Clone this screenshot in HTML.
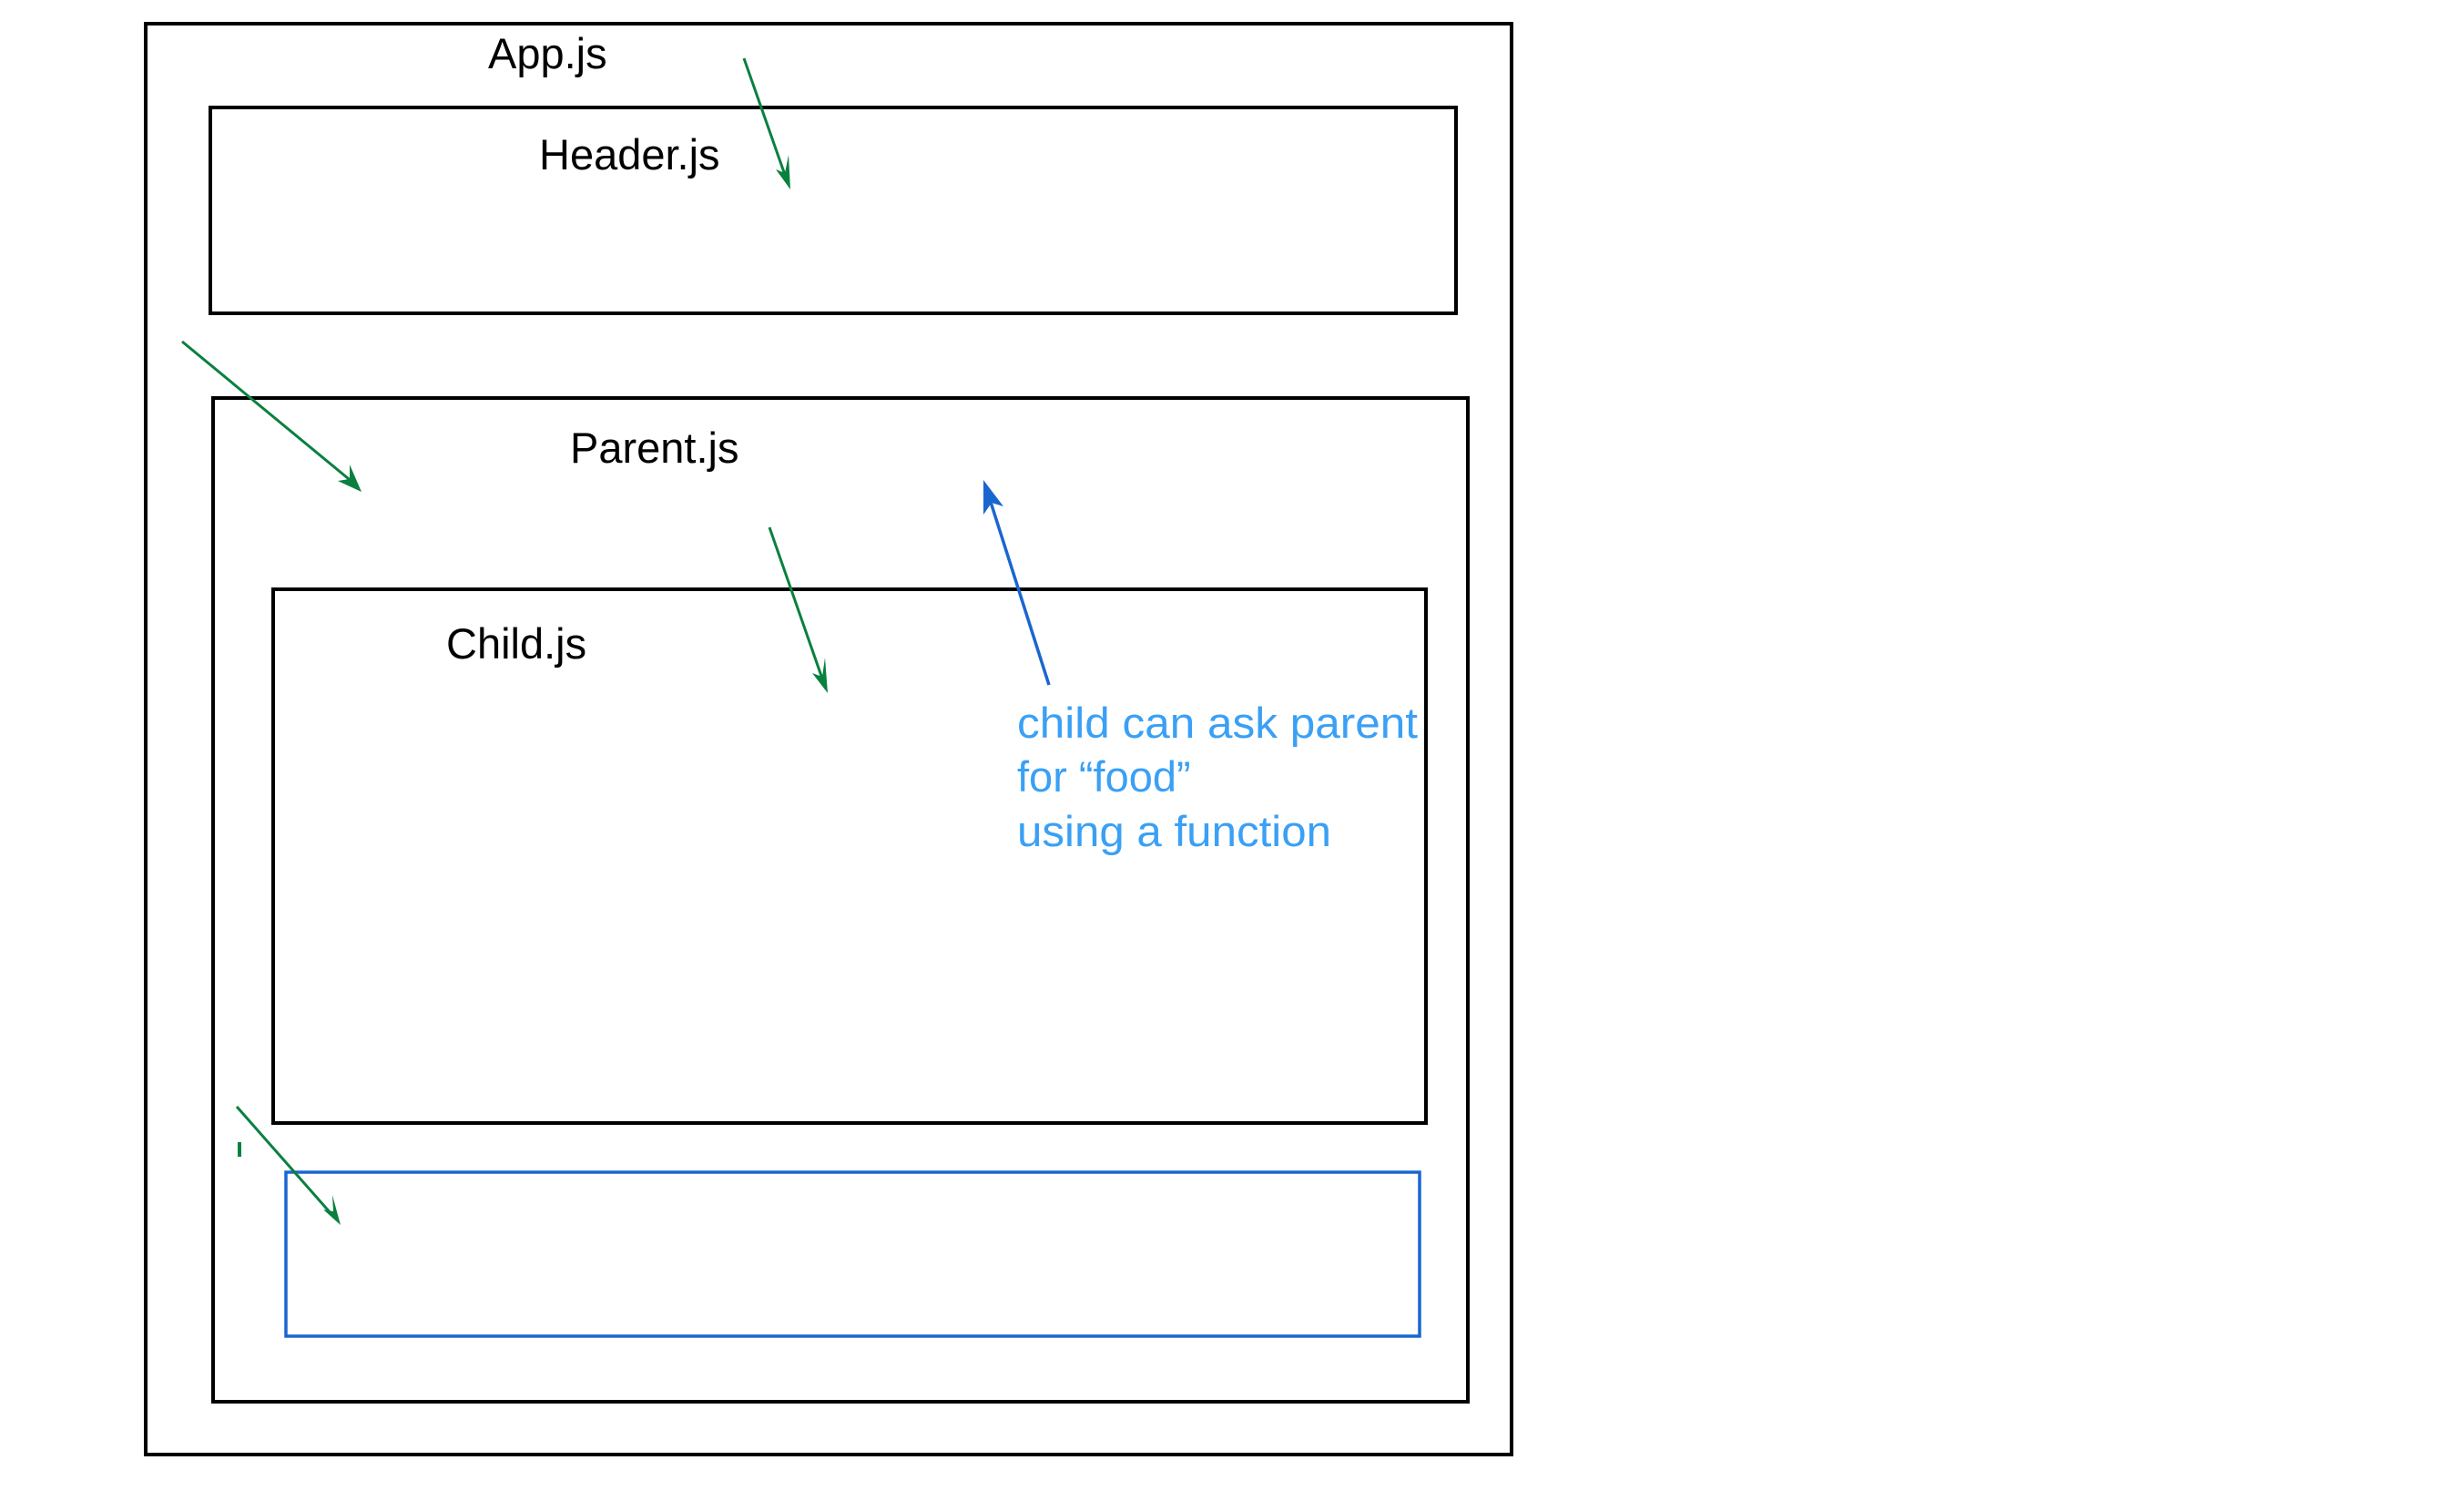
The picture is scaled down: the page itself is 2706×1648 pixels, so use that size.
<!DOCTYPE html>
<html><head><meta charset="utf-8"><style>
html,body{margin:0;padding:0;background:#fff;}
body{width:2706px;height:1648px;overflow:hidden;position:relative;}
svg{position:absolute;left:0;top:0;}
text{font-family:"Liberation Sans",sans-serif;font-size:47px;}
</style></head><body>
<svg width="2706" height="1648" viewBox="0 0 2706 1648">
<g fill="none" stroke="#000" stroke-width="4">
<rect x="160" y="26" width="1500" height="1571"/>
<rect x="231" y="118" width="1377" height="226" transform="translate(0,0)" style="display:none"/>
<rect x="231" y="118" width="1368" height="226"/>
<rect x="234" y="437" width="1378" height="1102"/>
<rect x="300" y="647" width="1266" height="586"/>
</g>
<rect x="314" y="1287" width="1245" height="180" fill="none" stroke="#1a66d0" stroke-width="3.5"/>
<g fill="#000">
<text x="536" y="75">App.js</text>
<text x="592" y="186">Header.js</text>
<text x="626" y="508">Parent.js</text>
<text x="490" y="723">Child.js</text>
</g>
<g fill="#3aa0f5" style="font-size:48px">
<text x="1117" y="810" textLength="440" lengthAdjust="spacingAndGlyphs">child can ask parent</text>
<text x="1117" y="869">for “food”</text>
<text x="1117" y="929" textLength="345" lengthAdjust="spacingAndGlyphs">using a function</text>
</g>
<g stroke="#0a8040" stroke-width="3" fill="none">
<line x1="817" y1="64" x2="862" y2="192"/>
<line x1="200" y1="375" x2="388" y2="530"/>
<line x1="845" y1="579" x2="903" y2="745"/>
<line x1="260" y1="1215" x2="364" y2="1333"/>
<line x1="263" y1="1254" x2="263" y2="1270" stroke-width="4"/>
</g>
<g fill="#0a8040">
<path d="M868,208 L852,186 L862,190 L866,170 Z"/>
<path d="M397,540 L371,528 L384,526 L384,510 Z"/>
<path d="M909,761 L892,739 L903,743 L906,722 Z"/>
<path d="M374,1345 L355,1328 L366,1330 L365,1312 Z"/>
</g>
<line x1="1152" y1="752" x2="1086" y2="545" stroke="#1a66d0" stroke-width="3.5"/>
<path d="M1080,527 L1102,556 L1089,552 L1080,565 Z" fill="#1a66d0"/>
</svg>
</body></html>
